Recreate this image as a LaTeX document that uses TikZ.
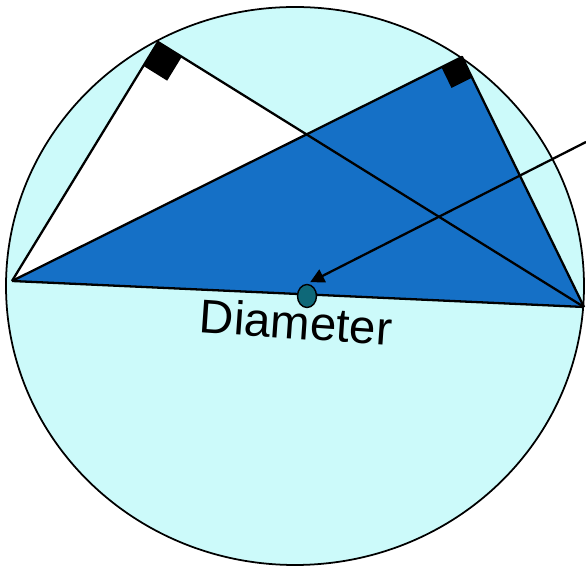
\documentclass[tikz,border=0pt]{standalone}
\usepackage{fontspec}
\setmainfont{Liberation Sans}
\usepackage{xcolor}
\definecolor{discCyan}{HTML}{CCFAFA}
\definecolor{triBlue}{HTML}{1570C6}
\definecolor{dotTeal}{HTML}{0E6878}
\usetikzlibrary{arrows.meta, calc, shapes.geometric}

\begin{document}
\begin{tikzpicture}[
    x=0.02cm, y=-0.02cm,
    edge/.style={draw=black, line width=1.3pt, line join=round},
    rightMark/.style={fill=black},
    pointer/.style={draw=black, line width=1.3pt, -{Triangle[length=8pt, width=8pt]}, shorten >=2pt},
    centreDot/.style={ellipse, draw=black, line width=0.8pt, fill=dotTeal, minimum width=0.38cm, minimum height=0.46cm, inner sep=0pt},
    diamLabel/.style={font=\fontsize{27}{31}\selectfont, rotate=-4, inner sep=0pt}
]
    \useasboundingbox (0,0) rectangle (586,570);

    % Circle
    \draw [fill=discCyan, line width=1pt] (295,286) ellipse [x radius=289, y radius=279];

    % Points on the circle
    \coordinate (A) at (12,281);
    \coordinate (B) at (584,307);
    \coordinate (C) at (158,42);
    \coordinate (D) at (462,57);
    \coordinate (arrowTail) at (586,142);

    % Triangles
    \fill [white] (A) -- (C) -- (B) -- cycle;
    \fill [triBlue] (A) -- (D) -- (B) -- cycle;
    \draw [edge] (A) -- (C) -- (B);
    \draw [edge] (A) -- (D) -- (B);
    \draw [edge] (A) -- (B);

    % Right angle marks
    \coordinate (Ca) at ($(C)!0.56cm!(A)$);
    \coordinate (Cb) at ($(C)!0.56cm!(B)$);
    \fill [rightMark] (C) -- (Ca) -- ($(Ca)+(Cb)-(C)$) -- (Cb) -- cycle;
    \coordinate (Da) at ($(D)!0.46cm!(A)$);
    \coordinate (Db) at ($(D)!0.46cm!(B)$);
    \fill [rightMark] (D) -- (Da) -- ($(Da)+(Db)-(D)$) -- (Db) -- cycle;

    % Centre and label
    \node (dot) [centreDot] at (307,296) {};
    \node (diam) [diamLabel] at (296,322) {Diameter};
    \draw [pointer] (arrowTail) -- (dot.north);
\end{tikzpicture}
\end{document}
